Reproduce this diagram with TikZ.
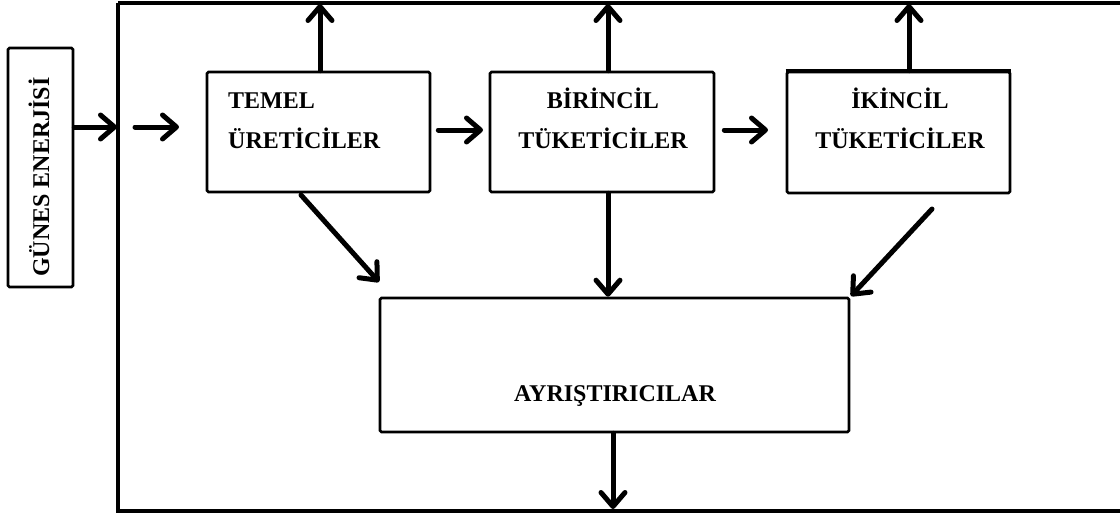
\documentclass[tikz,border=0pt]{standalone}
\usepackage{fontspec}
\setmainfont{Liberation Serif}
\usetikzlibrary{arrows.meta}
\begin{document}
\begin{tikzpicture}[x=1pt,y=-1pt,
  box/.style={draw,line width=2.6pt,rounded corners=1.5pt,inner sep=0pt},
  flow/.style={line width=5pt,line cap=round,
    -{Straight Barb[length=14pt,width=24pt,line width=5pt,round]}},
  lbl/.style={font=\fontsize{24}{30}\selectfont\bfseries,inner sep=0pt,anchor=base}]
\useasboundingbox (0,0) rectangle (1120,520);
% outer frame
\draw[line width=4.5pt] (118,3) -- (1122,3);
\draw[line width=4.5pt] (118,3) -- (118,511) -- (1122,511);
% boxes
\node[box,minimum width=65pt,minimum height=239pt] (sun) at (40.5,167.5) {};
\node[box,minimum width=223pt,minimum height=120pt] (prod) at (318.5,132) {};
\node[box,minimum width=224pt,minimum height=120pt] (cons1) at (602,132) {};
\node[box,minimum width=223pt,minimum height=121pt] (cons2) at (898.5,132.5) {};
\draw[line width=3.8pt] (cons2.north west) -- (cons2.north east);
\node[box,minimum width=469pt,minimum height=134pt] (dec) at (614.5,365) {};
% labels
\node[lbl,rotate=90] at (49,177) {GÜNES ENERJİSİ};
\node[lbl,anchor=base west] at (228,108) {TEMEL};
\node[lbl,anchor=base west] at (228,148) {ÜRETİCİLER};
\node[lbl] at (603,108) {BİRİNCİL};
\node[lbl] at (603,148) {TÜKETİCİLER};
\node[lbl] at (900,108) {İKİNCİL};
\node[lbl] at (900,148) {TÜKETİCİLER};
\node[lbl] at (615,401) {AYRIŞTIRICILAR};
% connector end points
\coordinate (frameIn) at (117,127);
\coordinate (inStart) at (135,127);
\coordinate (prodIn) at (179,127);
\coordinate (prodTop) at (320,4);
\coordinate (cons1Top) at (608,4);
\coordinate (cons2Top) at (909,4);
\coordinate (decOut) at (613,509);
\coordinate (d1s) at (301,195);
\coordinate (d1e) at (379,282);
\coordinate (d3s) at (932,209);
\coordinate (d3e) at (851,296);
% flows
\draw[flow] (sun.east |- frameIn) -- (frameIn);
\draw[flow] (inStart) -- (prodIn);
\draw[flow] (prod.east |- 0,130) ++(7,0) -- (483,130);
\draw[flow] (cons1.east |- 0,130) ++(9,0) -- (768,130);
\draw[flow] (prod.north -| prodTop) -- (prodTop);
\draw[flow] (cons1.north -| cons1Top) -- (cons1Top);
\draw[flow] (cons2.north -| cons2Top) -- (cons2Top);
\draw[flow] (cons1.south -| cons1Top) -- (dec.north -| cons1Top);
\draw[flow] (d1s) -- (d1e);
\draw[flow] (d3s) -- (d3e);
\draw[flow] (dec.south -| decOut) -- (decOut);
\end{tikzpicture}
\end{document}
